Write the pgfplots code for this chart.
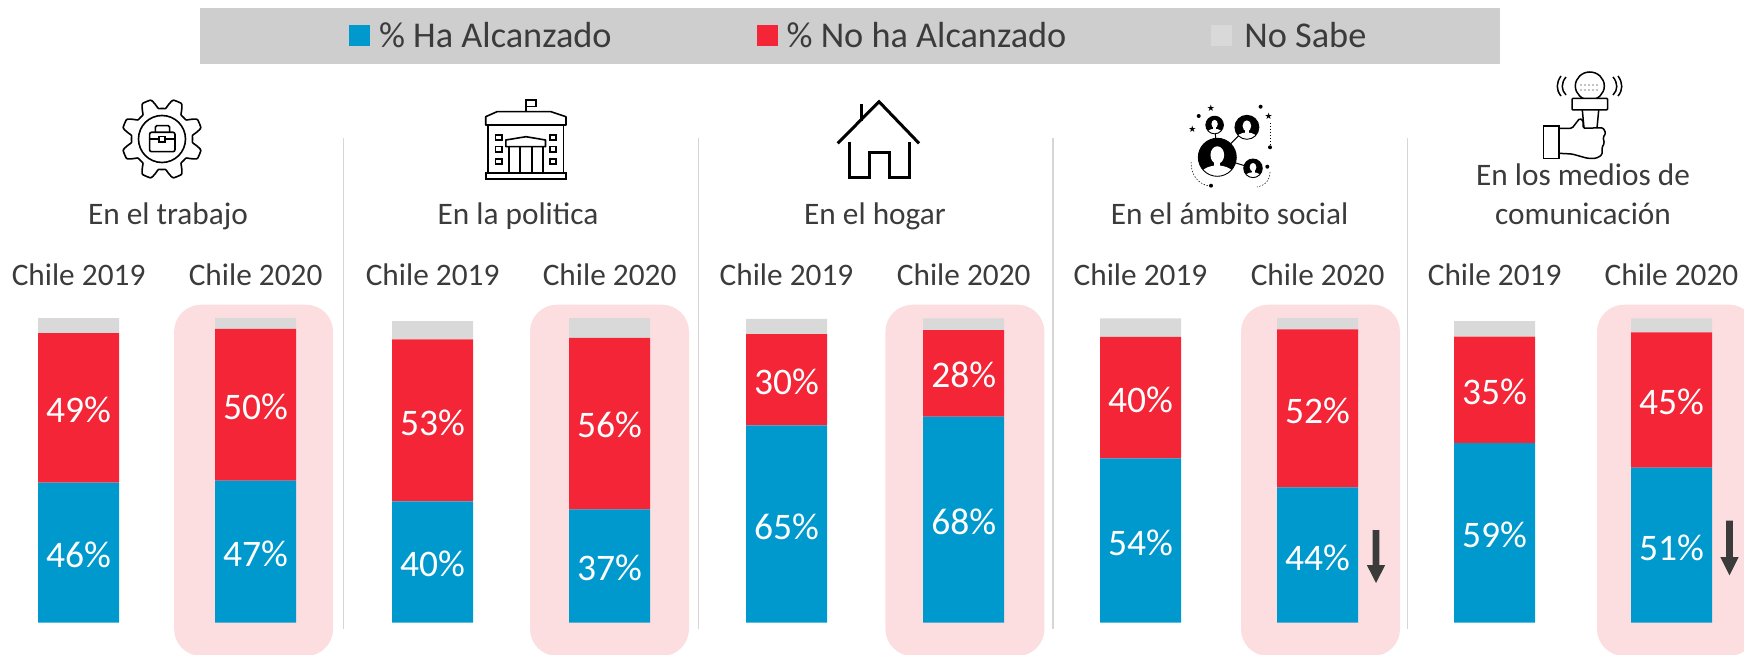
\documentclass[border=0pt]{standalone}
\usepackage{fontspec}
\setmainfont{Carlito}
\usepackage{pgfplots}
\usepackage{pgfplotstable}
\pgfplotsset{compat=1.18}
\definecolor{cblue}{HTML}{0099CE}
\definecolor{cred}{HTML}{F42536}
\definecolor{cgrey}{HTML}{D9D9D9}
\definecolor{cpink}{HTML}{FCDEE1}
\definecolor{cband}{HTML}{CECECE}
\definecolor{ctext}{HTML}{3B3B3B}
\definecolor{csep}{HTML}{D6D6D6}
\pgfplotstableread{
x ha no ns
78.6 46.0 49.0 5.0
255.6 46.6 49.8 3.6
432.6 39.8 53.2 6.0
609.6 37.2 56.3 6.5
786.5 64.8 29.9 5.0
963.7 67.6 28.4 3.9
1140.5 53.9 39.9 6.1
1317.6 44.4 51.9 3.7
1494.6 58.9 35.0 5.1
1671.5 50.9 44.4 4.6
}\datatable
\newcommand{\sizeA}{\fontsize{31.3}{35}\selectfont}
\newcommand{\sizeB}{\fontsize{36.3}{40}\selectfont}
\newcommand{\sizeC}{\fontsize{37.5}{40}\selectfont}
\tikzset{lab/.style={text=white,font=\sizeC,inner sep=0pt,anchor=center,yshift=-0.8pt}}
\newcommand{\person}[3]{% x y r
  \begin{scope}
    \clip (#1,#2) circle (#3);
    \fill[black] (#1,#2) circle (#3);
    \fill[white] (#1,#2-0.12*#3) ellipse ({0.36*#3} and {0.46*#3});
    \fill[white] (#1,#2+1.05*#3) ellipse ({0.95*#3} and {0.62*#3});
    \fill[white] (#1-0.16*#3,#2) rectangle (#1+0.16*#3,#2+0.6*#3);
  \end{scope}
  \draw[line width=0.9] (#1,#2) circle (#3);
}
\newfontfamily\symfont{DejaVu Sans}
\newcommand{\dotstar}[2]{\node[font=\fontsize{9}{9}\selectfont,inner sep=0pt] at (#1,#2) {\symfont ★};}
\begin{document}
\begin{tikzpicture}
\useasboundingbox (0,0) rectangle (1744pt,654pt);
\begin{scope}
\clip (0,0) rectangle (1744pt,654pt);
\begin{scope}[x=1pt,y=-1pt,yshift=654pt]
  % legend band
  \fill[cband] (200,8) rectangle (1500,63.7);
  % highlight panels
  \foreach \a in {174.1,530,885.4,1241,1597}
    \fill[cpink,rounded corners=27pt] (\a,304.7) rectangle (\a+159,656);
  % separators
  \foreach \a in {343.3,698.5,1052.8,1407.5}
    \draw[csep,line width=1.5] (\a,138) -- (\a,629.3);
\end{scope}
\end{scope}
\begin{axis}[
  at={(0,0)},anchor=south west,
  scale only axis,width=1744pt,height=654pt,
  xmin=0,xmax=1744,ymin=-10.27,ymax=204.37,
  hide axis,
  ybar stacked,bar width=81pt,
  legend columns=3,
  legend style={at={(0.4918,0.9452)},anchor=center,draw=none,fill=none,
    font=\sizeB,text=ctext,inner sep=0pt,row sep=0pt,
    nodes={inner sep=0pt},
    /tikz/column 2/.style={column sep=145pt},
    /tikz/column 4/.style={column sep=145pt},
    /tikz/column 1/.style={column sep=9pt},
    /tikz/column 3/.style={column sep=9pt},
    /tikz/column 5/.style={column sep=9pt},
    cells={anchor=west}},
  legend image code/.code={\fill[#1] (0pt,-10.5pt) rectangle (21pt,10.5pt);},
]
\addplot[fill=cblue,draw=none] table[x=x,y=ha]{\datatable};
\addplot[fill=cred,draw=none] table[x=x,y=no]{\datatable};
\addplot[fill=cgrey,draw=none] table[x=x,y=ns]{\datatable};
\legend{\% Ha Alcanzado,\% No ha Alcanzado,\hspace{3pt}No Sabe}
\end{axis}
\begin{axis}[
  at={(0,0)},anchor=south west,
  scale only axis,width=1744pt,height=654pt,
  xmin=0,xmax=1744,ymin=-10.27,ymax=204.37,
  hide axis,
]
\node[lab] at (axis cs:78.6,70.0){49\%};\node[lab] at (axis cs:78.6,22.5){46\%};
\node[lab] at (axis cs:255.6,71.1){50\%};\node[lab] at (axis cs:255.6,22.8){47\%};
\node[lab] at (axis cs:432.6,66.0){53\%};\node[lab] at (axis cs:432.6,19.5){40\%};
\node[lab] at (axis cs:609.6,65.1){56\%};\node[lab] at (axis cs:609.6,18.2){37\%};
\node[lab] at (axis cs:786.5,79.3){30\%};\node[lab] at (axis cs:786.5,31.7){65\%};
\node[lab] at (axis cs:963.7,81.6){28\%};\node[lab] at (axis cs:963.7,33.4){68\%};
\node[lab] at (axis cs:1140.5,73.5){40\%};\node[lab] at (axis cs:1140.5,26.4){54\%};
\node[lab] at (axis cs:1317.6,69.8){52\%};\node[lab] at (axis cs:1317.6,21.7){44\%};
\node[lab] at (axis cs:1494.6,76.0){35\%};\node[lab] at (axis cs:1494.6,29.0){59\%};
\node[lab] at (axis cs:1671.5,72.8){45\%};\node[lab] at (axis cs:1671.5,24.9){51\%};
\end{axis}
\begin{scope}
\clip (0,0) rectangle (1744pt,654pt);
\begin{scope}[x=1pt,y=-1pt,yshift=654pt]
  % year labels
  \foreach \a/\t in {78.6/2019,255.6/2020,432.6/2019,609.6/2020,786.5/2019,963.7/2020,1140.5/2019,1317.6/2020,1494.6/2019,1671.5/2020}
    \node[text=ctext,font=\sizeA,inner sep=0pt] at (\a,275) {Chile \t};
  % titles
  \node[text=ctext,font=\sizeA,inner sep=0pt,anchor=base] at (168,225) {En el trabajo};
  \node[text=ctext,font=\sizeA,inner sep=0pt,anchor=base] at (518,225) {En la politica};
  \node[text=ctext,font=\sizeA,inner sep=0pt,anchor=base] at (875,225) {En el hogar};
  \node[text=ctext,font=\sizeA,inner sep=0pt,anchor=base] at (1229.6,225) {En el ámbito social};
  \node[text=ctext,font=\sizeA,inner sep=0pt,anchor=base] at (1583,186) {En los medios de};
  \node[text=ctext,font=\sizeA,inner sep=0pt,anchor=base] at (1583,225) {comunicación};
  % arrows
  \fill[ctext] (1372.7,530) -- (1379.3,530) -- (1379.3,565) -- (1385.2,565) -- (1376,583) -- (1366.8,565) -- (1372.7,565) -- cycle;
  \fill[ctext] (1726.2,520.7) -- (1732.8,520.7) -- (1732.8,557) -- (1738.7,557) -- (1729.5,575.3) -- (1720.3,557) -- (1726.2,557) -- cycle;
  % gear icon
  \draw[line width=1.6,black] plot[domain=0:360,samples=193,smooth] ({162+(35.5-5*max(min(1.7*cos(8*\x),1),-1))*cos(\x)},{139+(35.5-5*max(min(1.7*cos(8*\x),1),-1))*sin(\x)}) -- cycle;
  \draw[line width=1.6] (162,139) circle (23.5);
  \draw[line width=1.6,rounded corners=2pt] (149.6,132.3) rectangle (175,151.7);
  \draw[line width=1.6,rounded corners=1.5pt] (155.4,132.3) -- (155.4,125.7) -- (169.6,125.7) -- (169.6,132.3);
  \draw[line width=1.6] (149.6,139) -- (159,139) (165,139) -- (175,139);
  \draw[line width=1.4] (159,136.5) rectangle (165,142);
  % building icon
  \begin{scope}[line width=1.6,black]
    \draw (526,112) -- (526,100) -- (536,100) -- (536,106.5) -- (526,106.5);
    \draw[line join=round] (485.7,125) -- (485.7,116.7) -- (497,111.7) -- (551,111.7) -- (566,116.7) -- (566,125) -- cycle;
    \draw (488,125) -- (488,173) (563.4,125) -- (563.4,173);
    \draw (485.7,173) rectangle (566,179.3);
    \foreach \wx in {495.5,550} \foreach \wy/\wz in {135/140,146.7/152.3,159/164.3}
      \draw (\wx,\wy) rectangle (\wx+6.2,\wz);
    \draw[line join=round] (505.8,146.7) -- (505.8,140) -- (526,136.7) -- (545.5,140) -- (545.5,146.7) -- cycle;
    \foreach \cx in {509,520,532,543} \draw (\cx,146.7) -- (\cx,173);
  \end{scope}
  % house icon
  \begin{scope}[line width=3,black]
    \draw (837.7,143.3) -- (879,101.7) -- (919,143.3);
    \draw (861.7,104) -- (861.7,121);
    \draw[miter limit=10] (849,141.7) -- (849,177.7) -- (869,177.7) -- (869,152.7) -- (889,152.7) -- (889,177.7) -- (909,177.7) -- (909,141.7);
  \end{scope}
  % social icon
  \draw[line width=1,black] (1217.3,157.3) -- (1214.6,125) (1217.3,157.3) -- (1246.9,127.3) (1217.3,157.3) -- (1253,168.3);
  \person{1217.3}{157.3}{19}
  \person{1214.6}{125}{8.8}
  \person{1246.9}{127.3}{12}
  \person{1253}{168.3}{9.3}
  \foreach \p/\q in {1198.7/116,1260.6/106.7,1270/147.3,1211/185.7,1267.3/166.7}
    \fill[black] (\p,\q) circle (2);
  \dotstar{1211}{108}\dotstar{1268.6}{116.7}\dotstar{1192.5}{129.3}
  \draw[line width=0.5,dash pattern=on 1.5pt off 1.5pt,black] (1191,162) .. controls (1191,175) and (1198,184) .. (1209,186);
  \draw[line width=0.5,dash pattern=on 1.5pt off 1.5pt,black] (1270,123) -- (1270,145);
  \draw[line width=0.5,dash pattern=on 1.5pt off 1.5pt,black] (1270,172) .. controls (1270,180) and (1266,185) .. (1257,187);
  % microphone icon
  \begin{scope}[line width=1.5,black]
    \draw (1589.8,86) ellipse (14.5 and 14);
    \foreach \dx in {1581,1585,1589,1593,1597} {\fill (\dx,85) circle (0.6); \fill (\dx,90) circle (0.6);}
    \draw[rounded corners=1pt,fill=white] (1572,98.3) rectangle (1607.5,110);
    \draw (1582.3,110) -- (1584,128) (1598.7,110) -- (1597,128);
    \draw (1566,77) .. controls (1561,83) and (1561,90) .. (1566,95);
    \draw (1561,76) .. controls (1556,83) and (1556,90) .. (1561,96);
    \draw (1613,77) .. controls (1618,83) and (1618,90) .. (1613,95);
    \draw (1618,76) .. controls (1623,83) and (1623,90) .. (1618,96);
    \draw (1543.4,126) rectangle (1558.8,158.3);
    \draw[rounded corners=1.5pt,line join=round] (1558.8,128.3) -- (1572,128.3) -- (1579.7,118.3) -- (1583.2,120.7) -- (1583.2,128.3) -- (1603,127.7) -- (1605.8,133.3) -- (1603,137.3) -- (1604.4,143.3) -- (1602,147.3) -- (1602,155) -- (1596.2,158.3) -- (1587.4,158.3) -- (1572,154) -- (1558.8,153.3);
  \end{scope}
\end{scope}
\end{scope}
\end{tikzpicture}
\end{document}
